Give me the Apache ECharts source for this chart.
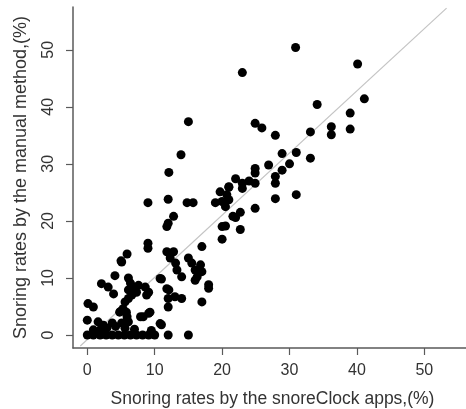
<!DOCTYPE html>
<html>
<head>
<meta charset="utf-8">
<script src="https://cdn.jsdelivr.net/npm/echarts@6/dist/echarts.min.js"></script>
<style>
html,body{margin:0;padding:0;background:#fff;}
#chart{width:466px;height:409px;}
</style>
</head>
<body>
<div id="chart"></div>
<script>
// snoreClock app rate (x, %) vs manual method rate (y, %)
var appRates = [
  0,0.9,1.9,2.8,3.7,4.6,5.5,6.4,7.3,8.2,9.1,10,12,15,
  0.9,1.9,2.9,4.2,5.6,7,9.5,
  0,1.6,3.7,5.1,5.9,6.1,10.8,11,2.4,
  4.9,5.9,4.8,5.8,7.9,8.3,9.1,9.3,
  5.3,5.6,0.1,0.9,6.1,6.6,12,12,13,14,17,
  2.1,3.1,3.9,6.8,7.6,7.3,8.6,9.1,8.8,10.8,11.8,12.1,4.1,6.1,6.4,6.1,
  5.1,5.9,5,9,9,11.8,12.8,12.3,13.1,13.3,14,15,15.5,16,16.3,16,16.8,17,18,18,17,11,
  9,12,14.8,15.7,19,20,20.5,19.7,21,12.8,12,11.8,20,20,21.6,20.5,
  12.1,13.9,15,23,30.9,40.1,41.1,34.1,39,39,36.2,36.2,33.1,24.9,25.9,27.9,28.9,31,33.1,30,28.9,26.9,24.9,24.9,
  22,23,24,23,24.9,21,20.7,21,27.9,27.9,27.9,31,24.9,22.7,22,22.7
];
var manualRates = [
  0,0,0,0,0,0,0,0,0,0,0,0,0,0,
  0.9,0.9,1.2,1.5,1.2,1,0.8,
  2.6,2.3,2.1,2.1,2.6,2.3,2,1.8,1.7,
  4.1,3.2,4,4,3.2,3.2,3.8,4,
  4.6,5.8,5.5,4.9,6.4,7,4.9,6.4,6.7,6.4,5.8,
  9,8.4,7.2,8.4,8.7,7.5,8.4,7.5,7,9.9,8.1,7.9,10.4,10,9.1,7.9,
  12.8,14.2,13,16.1,15.2,14.6,14.6,13.5,12.6,11.4,10.2,13.5,12.6,11.4,10.2,9.6,12.3,11.1,8.8,8.2,15.5,9.8,
  23.2,23.8,23.2,23.2,23.2,23.4,22.5,25.1,25.9,20.8,19.6,19,19,16.8,20.8,19.1,
  28.5,31.6,37.4,46,50.4,47.5,41.4,40.4,38.9,36.1,36.5,35.1,35.6,37.1,36.3,35,31.8,32,31,30,28.9,29.8,29.2,28.4,
  27.4,26.6,27,25.7,26.6,26,24.6,23.7,27.8,26.6,23.9,24.6,22.2,21.5,20.6,18.5
];
// fitted reference line end points
var fitX = [-1.04, 53.3];
var fitY = [-1.93, 57.3];
var tickValues = [0, 10, 20, 30, 40, 50];

var points = appRates.map(function (x, i) { return [x, manualRates[i]]; });
var fitLine = fitX.map(function (x, i) { return [x, fitY[i]]; });

var axisColor = '#5a5a5a';
var textColor = '#333333';
var font = 'Liberation Sans, Arial, sans-serif';

var chart = echarts.init(document.getElementById('chart'), null, {renderer: 'canvas'});
chart.setOption({
  animation: false,
  backgroundColor: '#fff',
  grid: {left: 73, right: 0, top: 7, bottom: 61, containLabel: false, outerBoundsMode: 'none'},
  xAxis: {
    type: 'value', min: -2.12, max: 56.18,
    splitLine: {show: false},
    axisLine: {show: true, onZero: false, lineStyle: {color: axisColor, width: 1.5}},
    axisTick: {show: true, inside: false, length: 7, customValues: tickValues, lineStyle: {color: axisColor, width: 1.2}},
    axisLabel: {customValues: tickValues, color: textColor, fontSize: 16, fontFamily: font, margin: 15},
    name: 'Snoring rates by the snoreClock apps,(%)',
    nameLocation: 'middle', nameGap: 42,
    nameTextStyle: {color: textColor, fontSize: 17.5, fontFamily: font, padding: [0, 0, 0, 6]}
  },
  yAxis: {
    type: 'value', min: -2.28, max: 57.5,
    splitLine: {show: false},
    axisLine: {show: true, onZero: false, lineStyle: {color: axisColor, width: 1.5}},
    axisTick: {show: true, inside: false, length: 7, customValues: tickValues, lineStyle: {color: axisColor, width: 1.2}},
    axisLabel: {customValues: tickValues, color: textColor, fontSize: 16, fontFamily: font, rotate: 90, margin: 16},
    name: 'Snoring rates by the manual method,(%)',
    nameLocation: 'middle', nameGap: 43, nameRotate: 90,
    nameTextStyle: {color: textColor, fontSize: 18, fontFamily: font}
  },
  series: [
    {
      type: 'line', data: fitLine, symbol: 'none', silent: true,
      lineStyle: {color: '#c4c4c4', width: 1.2}, z: 1
    },
    {
      type: 'scatter', data: points, symbol: 'circle', symbolSize: 9,
      itemStyle: {color: '#000', opacity: 1}, z: 2
    }
  ]
});
</script>
</body>
</html>
